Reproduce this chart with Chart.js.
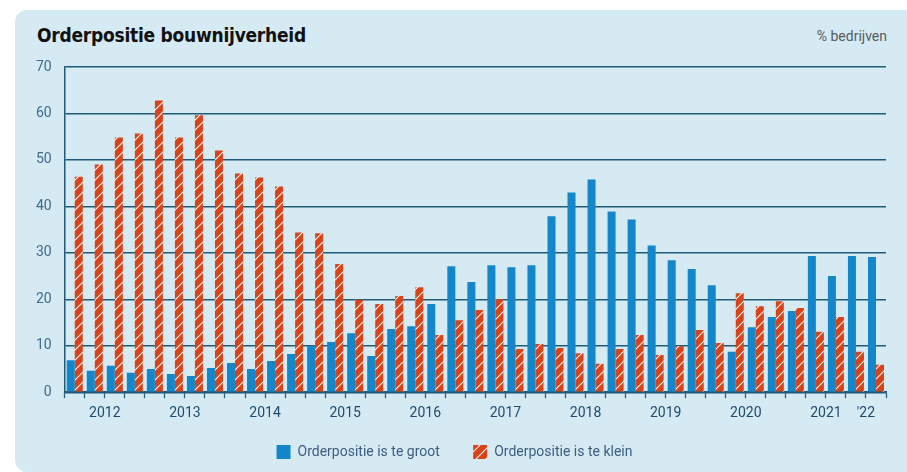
<!DOCTYPE html>
<html>
<head>
<meta charset="utf-8">
<script src="https://cdn.jsdelivr.net/npm/chart.js@4.4.1/dist/chart.umd.min.js"></script>
<style>
  html, body { margin: 0; padding: 0; background: #fff; width: 907px; height: 472px; overflow: hidden; }
  #card { position: absolute; left: 15px; top: 10px; width: 905px; height: 462px; background: #d5eaf3; border-radius: 12px; }
  #title { position: absolute; left: 37px; top: 24px; font: bold 19px 'DejaVu Sans Condensed', sans-serif; letter-spacing: -0.25px; color: #111; }
  #unit { position: absolute; right: 20px; top: 28px; font: 14px Roboto, sans-serif; color: #555b62; }
  #wrap { position: absolute; left: 15px; top: 10px; width: 892px; height: 462px; }
</style>
</head>
<body>
<div id="card"></div>
<div id="title">Orderpositie bouwnijverheid</div>
<div id="unit">% bedrijven</div>
<div id="wrap"><canvas id="canvas"></canvas></div>
<script>
// kwartalen 2012 K1 t/m 2022 K1
const years = ['2012', '2013', '2014', '2015', '2016', '2017', '2018', '2019', '2020', '2021', "'22"];
const quarters = [];
years.forEach(function (y, i) {
  const n = i === years.length - 1 ? 1 : 4;
  for (let q = 1; q <= n; q++) quarters.push(y + ' K' + q);
});

const tooBig = [
  6.9, 4.6, 5.7, 4.2,
  5.0, 3.9, 3.5, 5.2,
  6.3, 5.0, 6.7, 8.2,
  10.0, 10.8, 12.7, 7.8,
  13.6, 14.2, 19.0, 27.1,
  23.7, 27.3, 26.9, 27.3,
  37.9, 43.0, 45.8, 38.9,
  37.2, 31.6, 28.4, 26.5,
  23.0, 8.7, 14.0, 16.2,
  17.5, 29.3, 25.0, 29.3,
  29.1
];
const tooSmall = [
  46.4, 49.0, 54.8, 55.7,
  62.8, 54.8, 59.6, 52.0,
  47.1, 46.2, 44.3, 34.4,
  34.2, 27.6, 19.9, 19.0,
  20.7, 22.6, 12.3, 15.5,
  17.7, 20.0, 9.3, 10.4,
  9.5, 8.4, 6.1, 9.3,
  12.3, 8.0, 9.9, 13.4,
  10.6, 21.3, 18.5, 19.6,
  18.1, 13.0, 16.2, 8.7,
  5.9
];
// index van het kwartaal waarachter het jaarlabel staat (label schuift half kwartaal op)
const yearTickIndex = [1, 5, 9, 13, 17, 21, 25, 29, 33, 37, 39];

function hatch(color) {
  const c = document.createElement('canvas');
  c.width = 10; c.height = 10;
  const g = c.getContext('2d');
  g.fillStyle = color;
  g.fillRect(0, 0, 10, 10);
  g.strokeStyle = 'rgba(255,255,255,0.95)';
  g.lineWidth = 1.1;
  g.beginPath();
  g.moveTo(0, 10); g.lineTo(10, 0);
  g.moveTo(-5, 5); g.lineTo(5, -5);
  g.moveTo(5, 15); g.lineTo(15, 5);
  g.stroke();
  return g.createPattern(c, 'repeat');
}

Chart.defaults.font.family = 'Roboto';
const gridColor = '#1f5a78';

new Chart(document.getElementById('canvas'), {
  type: 'bar',
  data: {
    labels: quarters,
    datasets: [{
      label: 'Orderpositie is te groot',
      data: tooBig,
      backgroundColor: '#1487cb',
      categoryPercentage: 0.8,
      barPercentage: 1.0
    }, {
      label: 'Orderpositie is te klein',
      data: tooSmall,
      backgroundColor: hatch('#d9431a'),
      categoryPercentage: 0.8,
      barPercentage: 1.0
    }]
  },
  options: {
    responsive: true,
    maintainAspectRatio: false,
    animation: false,
    layout: { padding: { left: 8, right: 21, top: 57, bottom: 3 } },
    plugins: {
      tooltip: { enabled: false },
      legend: {
        position: 'bottom',
        labels: {
          boxWidth: 14, boxHeight: 14, padding: 16,
          color: '#3d5d7f', font: { size: 14 },
          generateLabels: function (chart) {
            const items = Chart.defaults.plugins.legend.labels.generateLabels(chart);
            // extra ruimte tussen de twee items
            items[0].text += '     ';
            return items;
          }
        }
      }
    },
    scales: {
      x: {
        grid: { display: true, drawOnChartArea: false, drawTicks: true, tickLength: 6, tickColor: '#2a6584', tickWidth: 1.3 },
        border: { display: true, color: gridColor, width: 1.5 },
        ticks: {
          padding: 7,
          labelOffset: 10,
          color: '#1f4a6e',
          font: { size: 14 },
          autoSkip: false,
          maxRotation: 0,
          callback: function (value, index) {
            const i = yearTickIndex.indexOf(index);
            return i >= 0 ? years[i] : '';
          }
        }
      },
      y: {
        min: 0,
        max: 70,
        ticks: { stepSize: 10, padding: 13, color: '#3f6a8c', font: { size: 14 } },
        grid: { color: gridColor, lineWidth: 1.4, drawTicks: false },
        border: { display: true, color: gridColor, width: 1.5 }
      }
    }
  }
});
</script>
</body>
</html>
